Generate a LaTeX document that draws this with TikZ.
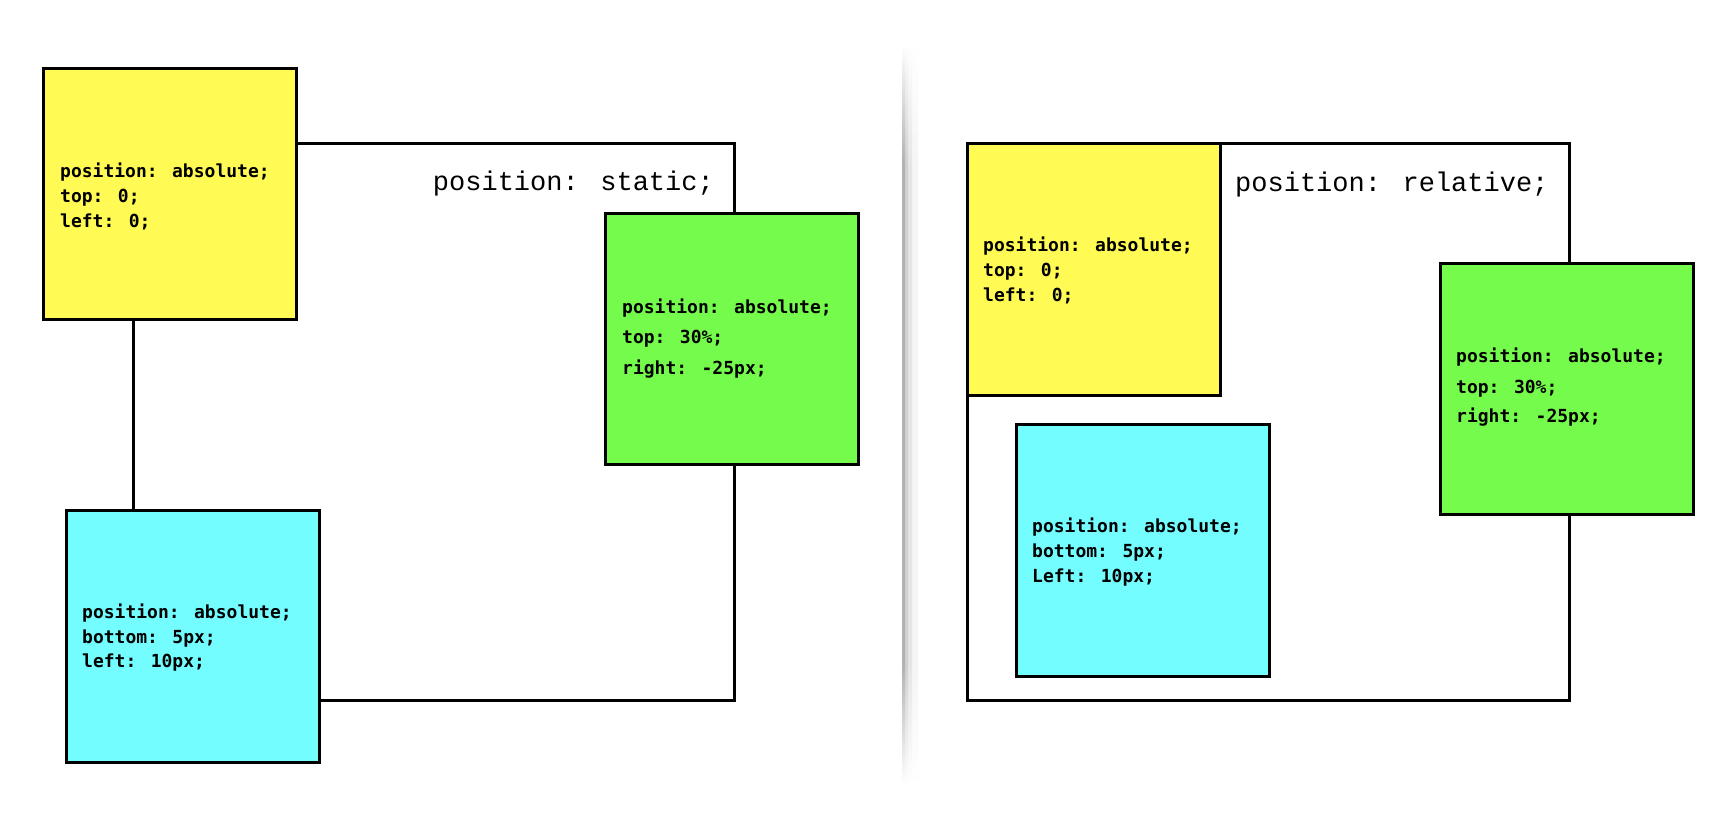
\documentclass[tikz,border=0pt]{standalone}
\usepackage{fontspec}
\newfontfamily\bodymono{DejaVu Sans Mono}
\newfontfamily\titlemono{Liberation Mono}
\definecolor{yfill}{HTML}{FFFB54}
\definecolor{gfill}{HTML}{75FB4C}
\definecolor{cfill}{HTML}{73FDFF}
\definecolor{dvA}{gray}{0.70}
\definecolor{dvB}{gray}{0.82}
\definecolor{dvC}{gray}{0.90}
\definecolor{dvD}{gray}{0.96}
\pgfdeclareverticalshading{divshA}{100bp}{color(0bp)=(white); color(25bp)=(white); color(33bp)=(dvA); color(67bp)=(dvA); color(75bp)=(white); color(100bp)=(white)}
\pgfdeclareverticalshading{divshB}{100bp}{color(0bp)=(white); color(25bp)=(white); color(33bp)=(dvB); color(67bp)=(dvB); color(75bp)=(white); color(100bp)=(white)}
\pgfdeclareverticalshading{divshC}{100bp}{color(0bp)=(white); color(25bp)=(white); color(33bp)=(dvC); color(67bp)=(dvC); color(75bp)=(white); color(100bp)=(white)}
\pgfdeclareverticalshading{divshD}{100bp}{color(0bp)=(white); color(25bp)=(white); color(33bp)=(dvD); color(67bp)=(dvD); color(75bp)=(white); color(100bp)=(white)}
\begin{document}
\begin{tikzpicture}[x=1pt,y=-1pt,
  frame/.style={draw=black, line width=3pt, inner sep=0pt, anchor=north west},
  sq/.style={frame, minimum width=252.5pt, minimum height=251.5pt},
  codeline/.style={font=\bodymono\bfseries\fontsize{18}{22}\selectfont, anchor=base west, inner sep=0pt},
  titletxt/.style={font=\titlemono\fontsize{27}{33}\selectfont, inner sep=0pt}]
\fill[white] (0,0) rectangle (1734,828);
\useasboundingbox (0,0) rectangle (1734,828);
% divider shadow
\shade[shading=divshD] (903,44) rectangle (918,785);
\shade[shading=divshC] (903,44) rectangle (912,785);
\shade[shading=divshB] (903,44) rectangle (908,785);
\shade[shading=divshA] (902.5,44) rectangle (905,785);
% ---- left panel: static ----
\node[frame, minimum width=601.5pt, minimum height=557.5pt] (static) at (131.5,141.5) {};
\node[titletxt, anchor=base east] (stitle) at (714,190) {position: static;};
\node[sq, fill=yfill] (yl) at (42,66.5) {};
\node[codeline] (yl1) at (60,177) {position: absolute;};
\node[codeline] (yl2) at (60,202) {top: 0;};
\node[codeline] (yl3) at (60,227) {left: 0;};
\node[sq, fill=gfill] (gl) at (604,211.5) {};
\node[codeline] (gl1) at (622,313) {position: absolute;};
\node[codeline] (gl2) at (622,343.5) {top: 30\%;};
\node[codeline] (gl3) at (622,374) {right: -25px;};
\node[sq, fill=cfill] (cl) at (65,509) {};
\node[codeline] (cl1) at (82,618) {position: absolute;};
\node[codeline] (cl2) at (82,643) {bottom: 5px;};
\node[codeline] (cl3) at (82,667.5) {left: 10px;};
% ---- right panel: relative ----
\node[frame, minimum width=601.5pt, minimum height=557pt] (relative) at (966,142) {};
\node[titletxt, anchor=base west] (rtitle) at (1235,191) {position: relative;};
\node[sq, fill=yfill] (yr) at (966,142) {};
\node[codeline] (yr1) at (983,251) {position: absolute;};
\node[codeline] (yr2) at (983,276) {top: 0;};
\node[codeline] (yr3) at (983,301) {left: 0;};
\node[sq, fill=cfill] (cr) at (1015,423) {};
\node[codeline] (cr1) at (1032,532) {position: absolute;};
\node[codeline] (cr2) at (1032,557) {bottom: 5px;};
\node[codeline] (cr3) at (1032,582) {Left: 10px;};
\node[sq, fill=gfill] (gr) at (1439,261.5) {};
\node[codeline] (gr1) at (1456,362.5) {position: absolute;};
\node[codeline] (gr2) at (1456,393) {top: 30\%;};
\node[codeline] (gr3) at (1456,422) {right: -25px;};
\end{tikzpicture}
\end{document}
